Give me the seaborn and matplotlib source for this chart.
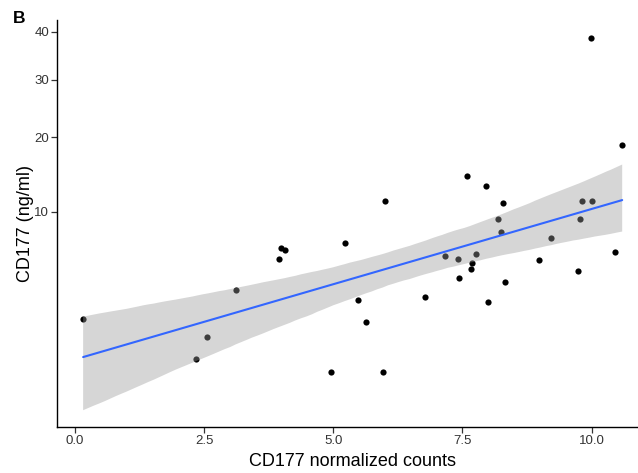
import numpy as np
import pandas as pd
import matplotlib
matplotlib.use("Agg")
import matplotlib.pyplot as plt
import seaborn as sns
from matplotlib.collections import PolyCollection

# Data
counts = [0.16, 2.35, 2.56, 3.12, 3.95, 3.99, 4.07, 4.95, 5.23, 5.47, 5.63, 5.97,
          6.00, 6.77, 7.17, 7.42, 7.43, 7.58, 7.66, 7.69, 7.77, 7.95, 8.00, 8.18,
          8.25, 8.28, 8.33, 8.99, 9.22, 9.73, 9.77, 9.82, 9.98, 10.01, 10.46, 10.59]
cd177_ng = [1.61, 0.33, 0.93, 3.15, 5.46, 6.38, 6.14, 0.12, 6.83, 2.58, 1.51, 0.12,
            11.2, 2.77, 5.63, 5.44, 4.00, 14.35, 4.60, 5.06, 5.80, 13.05, 2.49, 9.24,
            7.90, 10.99, 3.67, 5.36, 7.23, 4.52, 9.24, 11.26, 38.6, 11.26, 5.97, 18.8]
x_ticks = [0.0, 2.5, 5.0, 7.5, 10.0]
x_tick_labels = ["0.0", "2.5", "5.0", "7.5", "10.0"]
y_ticks = [10, 20, 30, 40]
y_tick_labels = ["10", "20", "30", "40"]

df = pd.DataFrame({"counts": counts, "ng": cd177_ng})
df["sqrt_ng"] = np.sqrt(df["ng"])

sns.set_theme(style="ticks")
plt.rcParams["font.family"] = ["Liberation Sans", "DejaVu Sans"]

W, H = 638, 473
fig = plt.figure(figsize=(W / 100, H / 100), dpi=100)
left_px, right_px, top_px, bottom_px = 57.3, 647.0, 20.0, 426.7
ax = fig.add_axes([left_px / W, 1 - bottom_px / H,
                   (right_px - left_px) / W, (bottom_px - top_px) / H])

sns.scatterplot(data=df, x="counts", y="sqrt_ng", ax=ax, color="black",
                s=20, linewidth=0, zorder=1)
sns.regplot(data=df, x="counts", y="sqrt_ng", ax=ax, scatter=False,
            ci=95, n_boot=2000, seed=1, truncate=True,
            line_kws=dict(color="#3366FF", lw=1.5, zorder=3))
for coll in ax.collections:
    if isinstance(coll, PolyCollection):
        coll.set_facecolor("#999999")
        coll.set_alpha(0.4)
        coll.set_edgecolor("none")
        coll.set_zorder(2)

ax.set_xlim(-0.34, 11.07)
ax.set_ylim(-0.62, 6.53)
ax.set_xticks(x_ticks)
ax.set_xticklabels(x_tick_labels)
ax.set_yticks(np.sqrt(y_ticks))
ax.set_yticklabels(y_tick_labels)

for side in ["top", "right"]:
    ax.spines[side].set_visible(False)
for side in ["left", "bottom"]:
    ax.spines[side].set_color("black")
    ax.spines[side].set_linewidth(1.0)
ax.tick_params(axis="both", length=4, width=0.9, color="#333333",
               labelsize=9.5, labelcolor="#333333", pad=2)

ax.set_xlabel("CD177 normalized counts", fontsize=13, color="black")
ax.set_ylabel("CD177 (ng/ml)", fontsize=13, color="black")
ax.xaxis.set_label_coords(0.5, -0.065)
ax.yaxis.set_label_coords(-0.04, 0.5)

fig.text(13 / W, 1 - 23 / H, "B", fontsize=12.5, fontweight="bold",
         color="black", ha="left", va="baseline")

fig.savefig("out.png", dpi=100)
